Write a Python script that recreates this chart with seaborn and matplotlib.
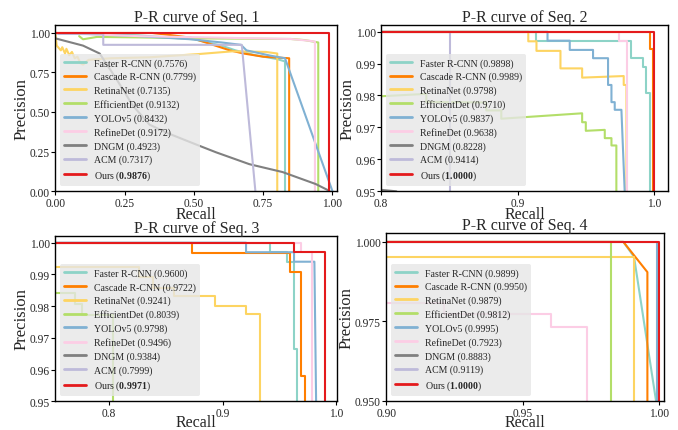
import matplotlib
matplotlib.use("Agg")
import pandas as pd
import matplotlib.pyplot as plt
import seaborn as sns
from matplotlib.ticker import FormatStrFormatter, MultipleLocator

methods = ["Faster R-CNN", "Cascade R-CNN", "RetinaNet", "EfficientDet", "YOLOv5",
           "RefineDet", "DNGM", "ACM", "Ours"]
colors = ["#8dd3c7", "#ff7f00", "#fdd462", "#b3de69", "#80b1d3",
          "#fccde5", "#808080", "#bebada", "#e41a1c"]

ap_seq1 = ["0.7576", "0.7799", "0.7135", "0.9132", "0.8432", "0.9172", "0.4923", "0.7317", "0.9876"]
ap_seq2 = ["0.9898", "0.9989", "0.9798", "0.9710", "0.9837", "0.9638", "0.8228", "0.9414", "1.0000"]
ap_seq3 = ["0.9600", "0.9722", "0.9241", "0.8039", "0.9798", "0.9496", "0.9384", "0.7999", "0.9971"]
ap_seq4 = ["0.9899", "0.9950", "0.9879", "0.9812", "0.9995", "0.7923", "0.8883", "0.9119", "1.0000"]

# curves as (recall, precision) points
s1_frcnn = [(0, 1.0), (0.1, 0.995), (0.3, 0.985), (0.5, 0.96), (0.6, 0.92), (0.65, 0.89),
            (0.72, 0.86), (0.8, 0.835), (0.829, 0.82), (0.829, 0.0)]
s1_cascade = [(0, 1.0), (0.35, 1.0), (0.4, 0.99), (0.49, 0.97), (0.56, 0.93), (0.63, 0.89),
              (0.68, 0.87), (0.75, 0.85), (0.844, 0.84), (0.844, 0.0)]
s1_retina = [(0, 1.0), (0.005, 0.92), (0.02, 0.89), (0.025, 0.91), (0.035, 0.87), (0.04, 0.9),
             (0.05, 0.86), (0.06, 0.88), (0.07, 0.84), (0.08, 0.85), (0.09, 0.81), (0.1, 0.80),
             (0.12, 0.83), (0.2, 0.84), (0.34, 0.846), (0.52, 0.867), (0.64, 0.884),
             (0.76, 0.88), (0.801, 0.87), (0.801, 0.0)]
s1_effdet = [(0.086, 0.98), (0.1, 0.96), (0.15, 0.975), (0.3, 0.972), (0.5, 0.966),
             (0.85, 0.962), (0.9, 0.955), (0.949, 0.94), (0.949, 0.0)]
s1_yolo = [(0, 1.0), (0.1, 0.995), (0.3, 0.98), (0.49, 0.96), (0.6, 0.94), (0.67, 0.925),
           (0.69, 0.89), (0.775, 0.857), (0.829, 0.84), (1.0, 0.0)]
s1_refine = [(0, 1.0), (0.3, 0.98), (0.6, 0.97), (0.85, 0.962), (0.92, 0.95), (0.937, 0.945),
             (0.937, 0.0)]
s1_dngm = [(0, 0.966), (0.1, 0.92), (0.16, 0.87), (0.22, 0.71), (0.28, 0.54), (0.34, 0.42),
           (0.40, 0.37), (0.50, 0.30), (0.58, 0.245), (0.70, 0.17), (0.82, 0.12),
           (0.94, 0.044), (0.99, 0.0)]
s1_acm = [(0.01, 0.994), (0.173, 0.994), (0.173, 0.925), (0.673, 0.925), (0.722, 0.0)]
s1_ours = [(0, 1.0), (0.986, 1.0), (0.986, 0.0)]

s2_frcnn = [(0.8, 1.0), (0.9136, 1.0), (0.9136, 0.997), (0.9834, 0.997), (0.9834, 0.9917),
            (0.9919, 0.9917), (0.9919, 0.9888), (0.9944, 0.9888), (0.9944, 0.9809),
            (0.9972, 0.9809), (0.9972, 0.0)]
s2_cascade = [(0.8, 1.0), (0.9968, 1.0), (0.9968, 0.9946), (0.9993, 0.9946), (0.9993, 0.0)]
s2_retina = [(0.8, 1.0), (0.9078, 1.0), (0.9078, 0.997), (0.9138, 0.997), (0.9138, 0.994),
             (0.9314, 0.994), (0.9314, 0.9885), (0.9473, 0.9885), (0.9473, 0.9856),
             (0.9778, 0.9861), (0.9778, 0.9833), (0.9798, 0.9833), (0.9798, 0.0)]
s2_effdet = [(0.78, 0.9793), (0.833, 0.9805), (0.833, 0.978), (0.877, 0.9778), (0.877, 0.9753),
             (0.888, 0.9753), (0.888, 0.9727), (0.9473, 0.9744), (0.9473, 0.9716),
             (0.950, 0.9716), (0.950, 0.9689), (0.9639, 0.9692), (0.9639, 0.9666),
             (0.9688, 0.9666), (0.9688, 0.9643), (0.9724, 0.9643), (0.9724, 0.0)]
s2_yolo = [(0.8, 1.0), (0.9219, 1.0), (0.9219, 0.9972), (0.9382, 0.9972), (0.9382, 0.9943),
           (0.9553, 0.9943), (0.9553, 0.9917), (0.9663, 0.9917), (0.9663, 0.9833),
           (0.9688, 0.9833), (0.9688, 0.9779), (0.9712, 0.9779), (0.9712, 0.9755),
           (0.9761, 0.9755), (0.9785, 0.95), (0.9785, 0.0)]
s2_refine = [(0.8, 1.0), (0.9747, 1.0), (0.9747, 0.997), (0.9803, 0.997), (0.9803, 0.0)]
s2_dngm = [(0.78, 0.9512), (0.811, 0.9499), (0.83, 0.94)]
s2_acm = [(0.8, 1.0), (0.8501, 1.0), (0.8501, 0.0)]
s2_ours = [(0.8, 1.0), (1.0, 1.0), (1.0, 0.0)]

s3_frcnn = [(0.7, 1.0), (0.9416, 1.0), (0.9416, 0.997), (0.9563, 0.997), (0.9563, 0.994),
            (0.9627, 0.994), (0.9627, 0.9665), (0.9656, 0.9665), (0.9656, 0.0)]
s3_cascade = [(0.7, 1.0), (0.8727, 1.0), (0.8727, 0.9967), (0.9592, 0.9967), (0.9592, 0.9908),
              (0.9689, 0.9908), (0.9689, 0.9579), (0.9724, 0.9579), (0.9724, 0.0)]
s3_retina = [(0.7, 0.9922), (0.826, 0.9922), (0.826, 0.9893), (0.839, 0.9893), (0.839, 0.9858),
             (0.857, 0.9858), (0.857, 0.9832), (0.8932, 0.9832), (0.8932, 0.9801),
             (0.9205, 0.9801), (0.9205, 0.9775), (0.9328, 0.9775), (0.9328, 0.0)]
s3_effdet = [(0.7, 0.984), (0.7701, 0.984), (0.7701, 0.9808), (0.776, 0.9808), (0.776, 0.9771),
             (0.8038, 0.9771), (0.8038, 0.0)]
s3_yolo = [(0.7, 1.0), (0.9205, 1.0), (0.9205, 0.997), (0.9627, 0.997), (0.9627, 0.994),
           (0.9806, 0.994), (0.9821, 0.95), (0.9821, 0.0)]
s3_refine = [(0.7, 1.0), (0.9686, 1.0), (0.9686, 0.9972), (0.9783, 0.9972), (0.9783, 0.0)]
s3_dngm = [(0.0, 1.0), (0.72, 1.0), (0.72, 0.0)]
s3_acm = [(0.0, 1.0), (0.70, 1.0), (0.70, 0.0)]
s3_ours = [(0.7, 1.0), (0.9627, 1.0), (0.9627, 0.9972), (0.990, 0.9972), (0.990, 0.0)]

s4_frcnn = [(0.85, 1.0), (0.9869, 1.0), (0.9908, 0.9953), (0.99905, 0.949), (0.99905, 0.0)]
s4_cascade = [(0.85, 1.0), (0.9869, 1.0), (0.9957, 0.9905), (0.9957, 0.0)]
s4_retina = [(0.85, 0.9953), (0.9908, 0.9953), (0.9908, 0.0)]
s4_effdet = [(0.85, 1.0), (0.9824, 1.0), (0.9824, 0.0)]
s4_yolo = [(0.85, 1.0), (0.9992, 1.0), (0.9992, 0.0)]
s4_refine = [(0.85, 0.9807), (0.9212, 0.9807), (0.9212, 0.9774), (0.9603, 0.9774),
             (0.9603, 0.9732), (0.9737, 0.9732), (0.9737, 0.0)]
s4_dngm = [(0.0, 1.0), (0.88, 1.0), (0.88, 0.0)]
s4_acm = [(0.0, 1.0), (0.89, 1.0), (0.89, 0.0)]
s4_ours = [(0.85, 1.0), (1.0, 1.0), (1.0, 0.0)]

seqs = [
    ([s1_frcnn, s1_cascade, s1_retina, s1_effdet, s1_yolo, s1_refine, s1_dngm, s1_acm, s1_ours], ap_seq1),
    ([s2_frcnn, s2_cascade, s2_retina, s2_effdet, s2_yolo, s2_refine, s2_dngm, s2_acm, s2_ours], ap_seq2),
    ([s3_frcnn, s3_cascade, s3_retina, s3_effdet, s3_yolo, s3_refine, s3_dngm, s3_acm, s3_ours], ap_seq3),
    ([s4_frcnn, s4_cascade, s4_retina, s4_effdet, s4_yolo, s4_refine, s4_dngm, s4_acm, s4_ours], ap_seq4),
]

# axes boxes in figure fraction, limits and tick setup per panel
boxes = [(0.0816, 0.5545, 0.416, 0.385), (0.5624, 0.5545, 0.4229, 0.385),
         (0.0816, 0.0666, 0.416, 0.3842), (0.5698, 0.0673, 0.4096, 0.3898)]
xlims = [(0.0, 1.018), (0.8, 1.0103), (0.7528, 1.0008), (0.9, 1.0018)]
ylims = [(0.0, 1.05), (0.95, 1.0021), (0.95, 1.0022), (0.95, 1.0028)]
xsteps = [0.25, 0.1, 0.1, 0.05]
ysteps = [0.25, 0.01, 0.01, 0.025]
xfmts = ["%.2f", "%.1f", "%.1f", "%.2f"]
yfmts = ["%.2f", "%.2f", "%.2f", "%.3f"]
xpads = [-1.5, -1.5, -3.5, -3.5]

sns.set_theme(style="ticks")
plt.rcParams["font.family"] = ["Liberation Serif", "DejaVu Serif"]
plt.rcParams["mathtext.fontset"] = "custom"
plt.rcParams["mathtext.rm"] = "Liberation Serif"
plt.rcParams["mathtext.bf"] = "Liberation Serif:bold"
plt.rcParams["axes.edgecolor"] = "black"
plt.rcParams["axes.linewidth"] = 1.0

fig = plt.figure(figsize=(6.78, 4.31), dpi=100)

for i, (curves, aps) in enumerate(seqs):
    ax = fig.add_axes(boxes[i])
    for name, col, pts, ap in zip(methods, colors, curves, aps):
        df = pd.DataFrame(pts, columns=["recall", "precision"])
        if name == "Ours":
            label = "Ours ($\\mathbf{" + ap + "}$)"
        else:
            label = f"{name} ({ap})"
        sns.lineplot(data=df, x="recall", y="precision", sort=False, estimator=None,
                     color=col, lw=1.5, label=label, ax=ax, legend=False)
    ax.set_xlim(*xlims[i])
    ax.set_ylim(*ylims[i])
    ax.xaxis.set_major_locator(MultipleLocator(xsteps[i]))
    ax.yaxis.set_major_locator(MultipleLocator(ysteps[i]))
    ax.xaxis.set_major_formatter(FormatStrFormatter(xfmts[i]))
    ax.yaxis.set_major_formatter(FormatStrFormatter(yfmts[i]))
    ax.tick_params(labelsize=8.3, length=3, width=0.8, color="black", pad=1)
    ax.set_title(f"P-R curve of Seq. {i + 1}", fontsize=11.5, pad=2)
    ax.set_xlabel("Recall", fontsize=11.5, labelpad=xpads[i])
    ax.set_ylabel("Precision", fontsize=12, labelpad=0)
    leg = ax.legend(loc="lower left", fontsize=7.1, frameon=True, facecolor="#e6e6e6",
                    edgecolor="none", framealpha=0.8, handlelength=2.2,
                    labelspacing=0.42, borderpad=0.4)
    for line in leg.get_lines():
        line.set_linewidth(2.0)

fig.savefig("out.png", dpi=100)
